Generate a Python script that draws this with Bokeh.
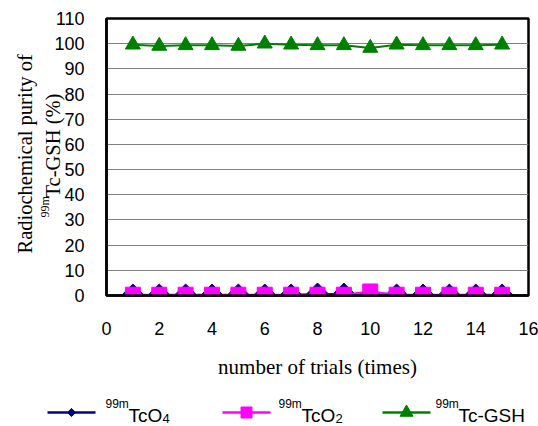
import numpy as np
from bokeh.plotting import figure
from bokeh.models import Range1d, FixedTicker, Title
from bokeh.layouts import column
from bokeh.embed import file_html
from bokeh.resources import INLINE
from bokeh.core.properties import value

# ---- data ----
trials = list(range(1, 16))
tco4 = [0.2, 0.2, 0.2, 0.2, 0.2, 0.2, 0.2, 0.6, 0.6, 0.1, 0.2, 0.2, 0.2, 0.2, 0.2]
tco2 = [0.3, 0.3, 0.3, 0.3, 0.3, 0.3, 0.3, 0.3, 0.3, 1.6, 0.3, 0.3, 0.3, 0.3, 0.3]
gsh = [99.6, 99.1, 99.35, 99.35, 99.1, 100.0, 99.6, 99.35, 99.35, 98.3, 99.6, 99.35, 99.35, 99.35, 99.6]
x_ticks = [0, 2, 4, 6, 8, 10, 12, 14, 16]
y_ticks = [0, 10, 20, 30, 40, 50, 60, 70, 80, 90, 100, 110]
series_sup = ["99m", "99m", "99m"]
series_main = ["TcO", "TcO", "Tc-GSH"]
series_sub = ["4", "2", ""]
colors = ["#000080", "#FF00FF", "#008000"]
x_title = "number of trials (times)"
y_title_1 = "Radiochemical purity of"
y_title_2 = "Tc-GSH (%)"

SANS = "Liberation Sans"
SERIF = "Liberation Serif"
W, H_MAIN, H_LEG = 538, 392, 34


def no_align(fig):
    try:
        fig.frame_align = False
    except Exception:
        pass


p = figure(width=W, height=H_MAIN, x_range=Range1d(0, 16), y_range=Range1d(0, 110),
           output_backend="svg", toolbar_location=None,
           min_border_left=106, min_border_right=10, min_border_top=18, min_border_bottom=97)
no_align(p)
p.background_fill_color = "white"
p.border_fill_color = "white"
p.outline_line_color = "black"
p.outline_line_width = 2.5
p.xgrid.visible = False
p.ygrid.ticker = FixedTicker(ticks=y_ticks)
p.ygrid.grid_line_color = "#808080"
p.ygrid.grid_line_width = 1

p.xaxis.ticker = FixedTicker(ticks=x_ticks)
p.yaxis.ticker = FixedTicker(ticks=y_ticks)
for ax in (p.xaxis, p.yaxis):
    ax.axis_line_color = "black"
    ax.axis_line_width = 2.5
    ax.major_tick_out = 0
    ax.major_tick_in = 0
    ax.minor_tick_out = 0
    ax.minor_tick_in = 0
    ax.major_label_text_font = SANS
    ax.major_label_text_font_size = "18px"
    ax.major_label_text_color = "black"
p.xaxis.major_label_standoff = 26
p.yaxis.major_label_standoff = 22
p.xaxis.axis_label = x_title
p.xaxis.axis_label_text_font = SERIF
p.xaxis.axis_label_text_font_size = "21px"
p.xaxis.axis_label_text_font_style = "normal"
p.xaxis.axis_label_text_color = "black"
p.xaxis.axis_label_standoff = 17


def side_title(text, size, offset, standoff):
    t = Title(text=text, align="left", vertical_align="bottom", offset=offset,
              text_font=SERIF, text_font_size=size, text_font_style="normal",
              text_color="black")
    try:
        t.standoff = standoff
    except Exception:
        t.standoff = 0
    p.add_layout(t, "left")


# y-axis title: two rotated lines, the second with a superscript
side_title(y_title_2, "20.5px", 98, -24)
side_title(series_sup[2], "12px", 78, 0)
side_title(y_title_1, "20.5px", 42, 0)

# series
p.line(trials, tco4, line_color=colors[0], line_width=2)
p.scatter(trials, tco4, marker="square", angle=np.pi / 4, size=15.5,
          fill_color=colors[0], line_color=colors[0])
p.line(trials, tco2, line_color=colors[1], line_width=2)
p.scatter(trials, tco2, marker="square", size=15,
          fill_color=colors[1], line_color=colors[1])
p.line(trials, gsh, line_color=colors[2], line_width=2)
p.scatter(trials, gsh, marker="triangle", size=15,
          fill_color=colors[2], line_color=colors[2])

# ---- legend strip (own figure, frame = whole strip, x/y in page pixels) ----
lg = figure(width=W, height=H_LEG, x_range=Range1d(0, W), y_range=Range1d(0, H_LEG),
            output_backend="svg", toolbar_location=None,
            min_border=0, x_axis_location=None, y_axis_location=None)
no_align(lg)
lg.outline_line_color = None
lg.grid.visible = False
lg.background_fill_color = "white"
lg.border_fill_color = "white"

line_x0 = [47, 222, 382]
sup_x = [105, 278, 435]
main_x = [128, 301, 458]
sub_x = [162, 335, 0]
line_y = 14
markers = [("square", np.pi / 4, 5.8), ("square", 0, 11), ("triangle", 0, 13)]
for i in range(3):
    lg.line([line_x0[i], line_x0[i] + 48], [line_y, line_y], line_color=colors[i], line_width=2.5)
    mk, ang, sz = markers[i]
    lg.scatter([line_x0[i] + 24], [line_y], marker=mk, angle=ang, size=sz,
               fill_color=colors[i], line_color=colors[i])
    lg.text([sup_x[i]], [23], text=[series_sup[i]], text_font=value(SANS),
            text_font_size=value("12px"), text_baseline="alphabetic", text_align="left",
            text_color="black")
    lg.text([main_x[i]], [11], text=[series_main[i]], text_font=value(SANS),
            text_font_size=value("19px"), text_baseline="alphabetic", text_align="left",
            text_color="black")
    if series_sub[i]:
        lg.text([sub_x[i]], [8.5], text=[series_sub[i]], text_font=value(SANS),
                text_font_size=value("13px"), text_baseline="alphabetic", text_align="left",
                text_color="black")

layout = column(p, lg, spacing=0)
open("out.html", "w").write(file_html(layout, INLINE))
